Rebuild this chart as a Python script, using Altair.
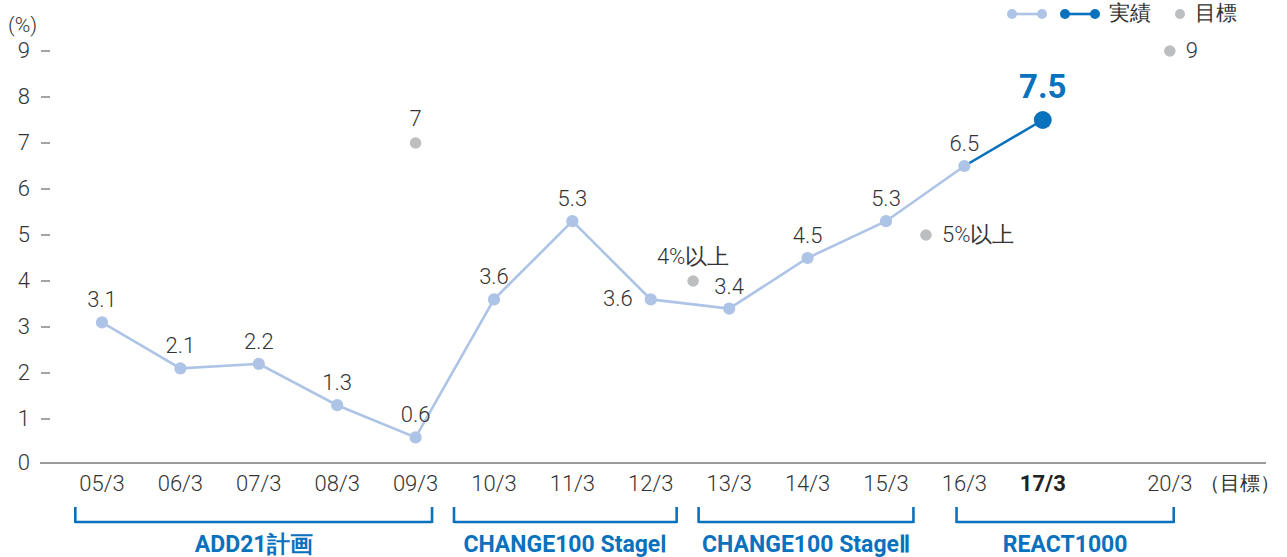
import altair as alt
import pandas as pd

# ---- data ----
periods = ["05/3", "06/3", "07/3", "08/3", "09/3", "10/3", "11/3", "12/3",
           "13/3", "14/3", "15/3", "16/3", "17/3", "20/3"]
period_pos = [0, 1, 2, 3, 4, 5, 6, 7, 8, 9, 10, 11, 12, 13.62]
actual_values = [3.1, 2.1, 2.2, 1.3, 0.6, 3.6, 5.3, 3.6, 3.4, 4.5, 5.3, 6.5, 7.5]
target_pos = [4, 7.54, 10.51, 13.62]
target_values = [7, 4, 5, 9]
target_labels = ["7", "4%以上", "5%以上", "9"]
plan_names = ["ADD21計画", "CHANGE100 StageⅠ", "CHANGE100 StageⅡ", "REACT1000"]
plan_start = [-0.34, 4.49, 7.61, 10.90]
plan_end = [4.21, 7.33, 10.35, 13.67]
y_ticks = [0, 1, 2, 3, 4, 5, 6, 7, 8, 9]

# ---- layout ----
W, H = 1216, 459
PAD = {"left": 50, "top": 6, "right": 21, "bottom": 92}
XMIN, XMAX = -0.663, 14.847
YMAX = 459 / 46.0
LIGHT = "#aec4e6"
DARK = "#0a71bd"
GRAY = "#bdbec0"
TXT = "#333333"
FONT = "Roboto"
FS = 22

actual = pd.DataFrame({
    "pos": period_pos[:len(actual_values)],
    "value": actual_values,
    "idx": list(range(len(actual_values))),
    "label": [f"{v:.1f}" for v in actual_values],
})
targets = pd.DataFrame({"pos": target_pos, "value": target_values, "label": target_labels})
xlabels = pd.DataFrame({"pos": period_pos, "label": periods, "idx": list(range(len(periods)))})
plans = pd.DataFrame({"name": plan_names, "start": plan_start, "end": plan_end})
plans["mid"] = (plans["start"] + plans["end"]) / 2
yt = pd.DataFrame({"value": y_ticks, "label": [str(v) for v in y_ticks]})

xs = alt.Scale(domain=[XMIN, XMAX], nice=False, zero=False)
ys = alt.Scale(domain=[0, YMAX], nice=False, zero=True)
X = alt.X("pos:Q", scale=xs, axis=None)
Y = alt.Y("value:Q", scale=ys, axis=None)

base_a = alt.Chart(actual)
one = alt.Data(values=[{}])

# manual y axis
y_tick_marks = alt.Chart(yt).transform_filter("datum.value > 0").mark_rule(
    color="#666666", strokeWidth=1.2).encode(x=alt.value(-9), x2=alt.value(0), y=Y)
y_tick_labels = alt.Chart(yt).transform_filter("datum.value > 0").mark_text(
    fontSize=FS, font=FONT, fontWeight=300, color=TXT, align="right", baseline="middle").encode(
    x=alt.value(-20), y=Y, text="label:N")
y_zero_label = alt.Chart(yt).transform_filter("datum.value == 0").mark_text(
    fontSize=FS, font=FONT, fontWeight=300, color=TXT, align="right", baseline="middle").encode(
    x=alt.value(-20), y=alt.value(H - 2), text="label:N")
y_title = alt.Chart(one).mark_text(
    text="(%)", fontSize=21, font=FONT, fontWeight=300, color=TXT, align="left",
    baseline="middle").encode(x=alt.value(-42), y=alt.value(20))

baseline = alt.Chart(one).mark_rule(color="#7a7a7a", strokeWidth=1.6).encode(
    x=alt.value(-10), x2=alt.value(W), y=alt.value(H - 2))

light_line = base_a.transform_filter("datum.idx <= 11").mark_line(
    color=LIGHT, strokeWidth=2.6).encode(x=X, y=Y)
dark_line = base_a.transform_filter("datum.idx >= 11").mark_line(
    color=DARK, strokeWidth=2.6).encode(x=X, y=Y)
light_pts = base_a.transform_filter("datum.idx <= 11").mark_circle(
    color=LIGHT, opacity=1, size=150).encode(x=X, y=Y)
dark_pt = base_a.transform_filter("datum.idx == 12").mark_circle(
    color=DARK, opacity=1, size=320).encode(x=X, y=Y)
target_pts = alt.Chart(targets).mark_circle(color=GRAY, opacity=1, size=135).encode(x=X, y=Y)

lab_above = base_a.transform_filter("datum.idx != 7 && datum.idx != 12").mark_text(
    fontSize=FS, font=FONT, fontWeight=300, color=TXT, dy=-22, baseline="middle").encode(
    x=X, y=Y, text="label:N")
lab_left = base_a.transform_filter("datum.idx == 7").mark_text(
    fontSize=FS, font=FONT, fontWeight=300, color=TXT, dx=-18, align="right", baseline="middle").encode(
    x=X, y=Y, text="label:N")
lab_big = base_a.transform_filter("datum.idx == 12").mark_text(
    fontSize=33, font=FONT, fontWeight="bold", color=DARK, dy=-32, baseline="middle").encode(
    x=X, y=Y, text="label:N")

t_above = alt.Chart(targets).transform_filter(
    "datum.label == '7' || datum.label == '4%以上'").mark_text(
    fontSize=FS, font=FONT, fontWeight=300, color=TXT, dy=-24, baseline="middle").encode(
    x=X, y=Y, text="label:N")
t_right = alt.Chart(targets).transform_filter(
    "datum.label == '9' || datum.label == '5%以上'").mark_text(
    fontSize=FS, font=FONT, fontWeight=300, color=TXT, dx=16, align="left", baseline="middle").encode(
    x=X, y=Y, text="label:N")

xl_norm = alt.Chart(xlabels).transform_filter("datum.idx != 12").mark_text(
    fontSize=FS, font=FONT, fontWeight=300, color=TXT, baseline="middle").encode(
    x=X, y=alt.value(H + 19), text="label:N")
xl_bold = alt.Chart(xlabels).transform_filter("datum.idx == 12").mark_text(
    fontSize=FS, font=FONT, fontWeight="bold", color="#222222", baseline="middle").encode(
    x=X, y=alt.value(H + 19), text="label:N")
unit_lab = alt.Chart(one).mark_text(
    text="（目標）", fontSize=20, font=FONT, fontWeight=300, color=TXT, align="left",
    baseline="middle").encode(x=alt.value(1150), y=alt.value(H + 19))

pb = alt.Chart(plans)
br_h = pb.mark_rule(color=DARK, strokeWidth=2.6).encode(
    x=alt.X("start:Q", scale=xs, axis=None), x2="end:Q", y=alt.value(H + 57))
br_l = pb.mark_rule(color=DARK, strokeWidth=2.6).encode(
    x=alt.X("start:Q", scale=xs, axis=None), y=alt.value(H + 42), y2=alt.value(H + 58))
br_r = pb.mark_rule(color=DARK, strokeWidth=2.6).encode(
    x=alt.X("end:Q", scale=xs, axis=None), y=alt.value(H + 42), y2=alt.value(H + 58))
br_t = pb.mark_text(fontSize=23, font=FONT, fontWeight="bold", color=DARK, baseline="middle").encode(
    x=alt.X("mid:Q", scale=xs, axis=None), y=alt.value(H + 80), text="name:N")

# legend (top right)
LY = 8
leg = [
    alt.Chart(one).mark_rule(color=LIGHT, strokeWidth=2.6).encode(
        x=alt.value(962), x2=alt.value(992), y=alt.value(LY)),
    alt.Chart(one).mark_circle(color=LIGHT, opacity=1, size=100).encode(x=alt.value(962), y=alt.value(LY)),
    alt.Chart(one).mark_circle(color=LIGHT, opacity=1, size=100).encode(x=alt.value(992), y=alt.value(LY)),
    alt.Chart(one).mark_rule(color=DARK, strokeWidth=2.6).encode(
        x=alt.value(1015), x2=alt.value(1045), y=alt.value(LY)),
    alt.Chart(one).mark_circle(color=DARK, opacity=1, size=100).encode(x=alt.value(1015), y=alt.value(LY)),
    alt.Chart(one).mark_circle(color=DARK, opacity=1, size=100).encode(x=alt.value(1045), y=alt.value(LY)),
    alt.Chart(one).mark_text(text="実績", fontSize=21, font=FONT, fontWeight=300, color=TXT,
                             align="left", baseline="middle").encode(x=alt.value(1059), y=alt.value(LY)),
    alt.Chart(one).mark_circle(color=GRAY, opacity=1, size=100).encode(x=alt.value(1130), y=alt.value(LY)),
    alt.Chart(one).mark_text(text="目標", fontSize=21, font=FONT, fontWeight=300, color=TXT,
                             align="left", baseline="middle").encode(x=alt.value(1145), y=alt.value(LY)),
]

chart = alt.layer(
    baseline, y_tick_marks, y_tick_labels, y_zero_label, y_title,
    light_line, dark_line, light_pts, dark_pt, target_pts,
    lab_above, lab_left, lab_big, t_above, t_right,
    xl_norm, xl_bold, unit_lab, br_h, br_l, br_r, br_t, *leg
).properties(
    width=W, height=H,
    autosize=alt.AutoSizeParams(type="none"),
    padding=PAD,
).configure(font=FONT, background="white").configure_view(stroke=None)

chart.save("out.html", embed_options={"renderer": "svg", "actions": False})
